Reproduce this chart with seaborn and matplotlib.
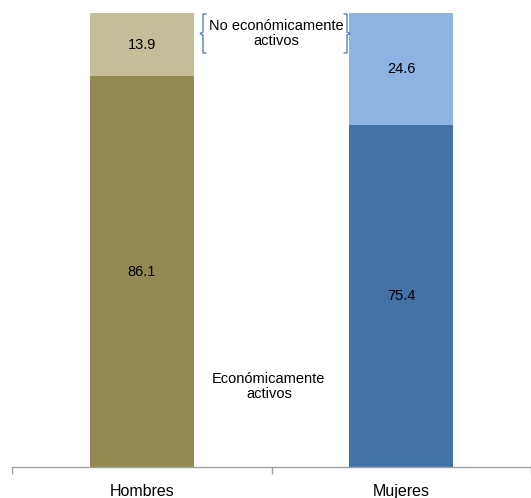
import matplotlib
matplotlib.use("Agg")
import matplotlib.pyplot as plt
import seaborn as sns
import pandas as pd

categories = ["Hombres", "Mujeres"]
activos = [86.1, 75.4]
no_activos = [13.9, 24.6]

sns.set_theme(style="white")
plt.rcParams['font.family'] = ['Liberation Sans', 'DejaVu Sans']

df = pd.DataFrame({"cat": categories, "activos": activos,
                   "no_activos": no_activos})
df["total"] = df["activos"] + df["no_activos"]

fig = plt.figure(figsize=(5.31, 4.98), dpi=100)
ax = fig.add_axes([12/531, 31/498, 519/531, 454/498])

dark = ["#938953", "#4472A8"]
light = ["#C4BD97", "#8DB3E2"]

sns.barplot(data=df, x="cat", y="total", hue="cat", palette=light,
            width=0.4, legend=False, ax=ax, saturation=1, linewidth=0)
sns.barplot(data=df, x="cat", y="activos", hue="cat", palette=dark,
            width=0.4, legend=False, ax=ax, saturation=1, linewidth=0)

ax.set_xlim(-0.5, 1.5)
ax.set_ylim(0, 100)
ax.set_xlabel("")
ax.set_ylabel("")
ax.set_yticks([])
for s in ["left", "right", "top"]:
    ax.spines[s].set_visible(False)
ax.spines["bottom"].set_color("#A0A0A0")
ax.spines["bottom"].set_linewidth(1)
ax.set_xticks([0, 1])
ax.set_xticklabels(categories, fontsize=11.5, color="black")
ax.tick_params(axis="x", which="major", length=0, pad=12)
ax.set_xticks([-0.5, 0.5, 1.5], minor=True)
ax.tick_params(axis="x", which="minor", length=5, color="#A0A0A0",
               direction="out", bottom=True)

for i in range(len(categories)):
    ax.text(i, activos[i] / 2, f"{activos[i]:.1f}", ha="center",
            va="center", fontsize=10.5, color="black")
    ax.text(i, activos[i] + no_activos[i] / 2, f"{no_activos[i]:.1f}",
            ha="center", va="center", fontsize=10.5, color="black")

ax.text(0.49, 17.7, "Económicamente\nactivos", ha="center", va="center",
        fontsize=10.5, color="black", linespacing=1.1)
ax.text(0.517, 95.5, "No económicamente\nactivos", ha="center", va="center",
        fontsize=10.5, color="black", linespacing=1.15)

# brackets (pixel coordinates converted to data)
def px2d(px, py):
    return (px - 12) / 259.5 - 0.5, (467 - py) / 4.54

bc = "#4F81BD"
def bracket(xv, xh, xn, y0, y1):
    pts = [(xh, y0), (xv, y0), (xv, (y0 + y1) / 2 - 1.5),
           (xn, (y0 + y1) / 2), (xv, (y0 + y1) / 2 + 1.5), (xv, y1), (xh, y1)]
    xs, ys = zip(*[px2d(x, y) for x, y in pts])
    ax.plot(xs, ys, color=bc, lw=1, clip_on=False, solid_joinstyle="miter")

bracket(203, 206, 200, 14, 53)
bracket(347, 344, 350, 14, 53)

fig.savefig("out.png", dpi=100)
